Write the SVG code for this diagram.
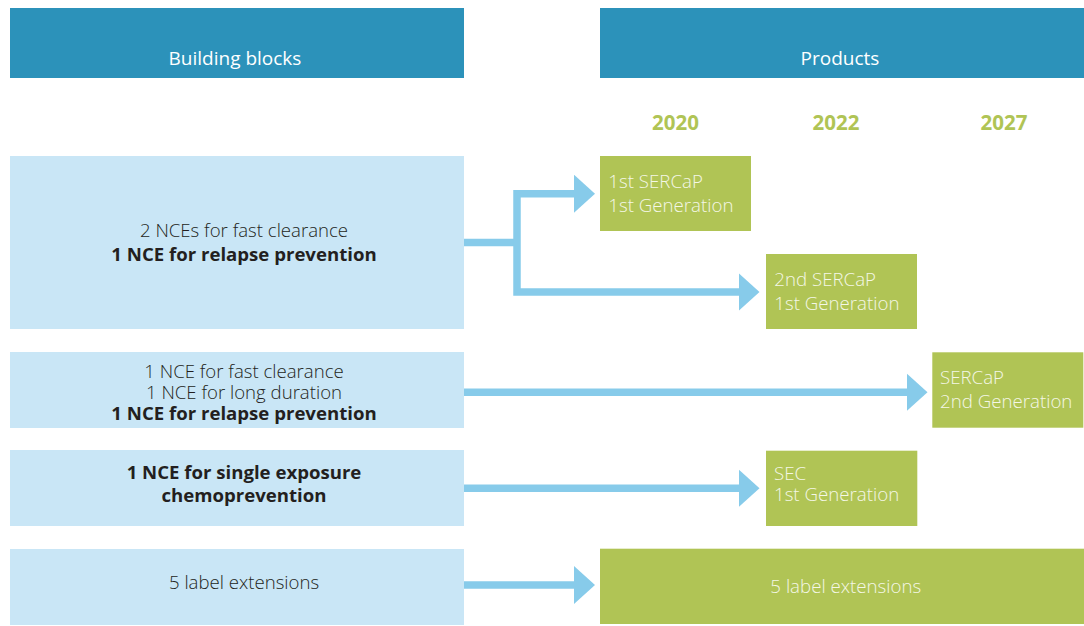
<svg xmlns="http://www.w3.org/2000/svg" width="1084" height="626" viewBox="0 0 1084 626">
  <style>
    .hdr { fill: #2c92ba; }
    .blk { fill: #c9e6f6; }
    .prd { fill: #b0c455; }
    .hdr-t { font-family: "Open Sans", "Noto Sans", sans-serif; font-size: 19px; fill: #ffffff; text-anchor: middle; }
    .yr { font-family: "Open Sans", "Noto Sans", sans-serif; font-size: 20.5px; font-weight: 700; fill: #b0c455; text-anchor: middle; }
    .bt { font-family: "Open Sans", "Noto Sans", sans-serif; font-size: 18.6px; font-weight: 300; fill: #231f20; text-anchor: middle; }
    .bb { font-size: 18.6px; font-weight: 700; }
    .pt { font-family: "Open Sans", "Noto Sans", sans-serif; font-size: 18.7px; font-weight: 300; fill: #f4f7e6; }
    .conn { fill: none; stroke: #87cbea; stroke-width: 7.5; stroke-linejoin: miter; marker-end: url(#head); }
  </style>
  <defs>
    <marker id="head" markerUnits="userSpaceOnUse" viewBox="0 0 21 38" markerWidth="21" markerHeight="38" refX="0.5" refY="19" orient="auto-start-reverse">
      <path d="M0,0 L21,19 L0,38 Z" fill="#87cbea"/>
    </marker>
  </defs>

  <rect width="1084" height="626" fill="#ffffff"/>

  <!-- column headers -->
  <g id="header-building-blocks">
    <rect class="hdr" x="10" y="8" width="454" height="70"/>
    <text class="hdr-t" x="235" y="65">Building blocks</text>
  </g>
  <g id="header-products">
    <rect class="hdr" x="600" y="8" width="484" height="70"/>
    <text class="hdr-t" x="840" y="65">Products</text>
  </g>

  <!-- years -->
  <g id="year-2020"><text class="yr" x="675.5" y="130">2020</text></g>
  <g id="year-2022"><text class="yr" x="836" y="130">2022</text></g>
  <g id="year-2027"><text class="yr" x="1004" y="130">2027</text></g>

  <!-- building blocks -->
  <g id="block-1">
    <rect class="blk" x="10" y="156" width="454" height="173"/>
    <text class="bt" x="244" y="237">2 NCEs for fast clearance</text>
    <text class="bt bb" x="244" y="260.5">1 NCE for relapse prevention</text>
  </g>
  <g id="block-2">
    <rect class="blk" x="10" y="352" width="454" height="76"/>
    <text class="bt" x="244" y="378.3">1 NCE for fast clearance</text>
    <text class="bt" x="244" y="399.2">1 NCE for long duration</text>
    <text class="bt bb" x="244" y="420">1 NCE for relapse prevention</text>
  </g>
  <g id="block-3">
    <rect class="blk" x="10" y="450" width="454" height="76"/>
    <text class="bt bb" x="244" y="478.7">1 NCE for single exposure</text>
    <text class="bt bb" x="244" y="502.3">chemoprevention</text>
  </g>
  <g id="block-4">
    <rect class="blk" x="10" y="549" width="454" height="76"/>
    <text class="bt" x="244" y="589">5 label extensions</text>
  </g>

  <!-- products -->
  <g id="product-sercap1-gen1">
    <rect class="prd" x="600" y="156" width="151" height="75"/>
    <text class="pt" x="608.3" y="188">1st SERCaP</text>
    <text class="pt" x="608.3" y="211.7">1st Generation</text>
  </g>
  <g id="product-sercap2-gen1">
    <rect class="prd" x="766" y="254" width="151" height="75"/>
    <text class="pt" x="774.3" y="286">2nd SERCaP</text>
    <text class="pt" x="774.3" y="309.7">1st Generation</text>
  </g>
  <g id="product-sercap-gen2">
    <rect class="prd" x="932.3" y="352.3" width="151" height="75.4"/>
    <text class="pt" x="940" y="384">SERCaP</text>
    <text class="pt" x="940" y="407.7">2nd Generation</text>
  </g>
  <g id="product-sec-gen1">
    <rect class="prd" x="766" y="450.7" width="151.3" height="75.3"/>
    <text class="pt" x="774" y="480">SEC</text>
    <text class="pt" x="774" y="501.3">1st Generation</text>
  </g>
  <g id="product-label-extensions">
    <rect class="prd" x="600" y="548.7" width="484" height="75.3"/>
    <text class="pt" x="845.8" y="592.7" text-anchor="middle">5 label extensions</text>
  </g>

  <!-- connectors -->
  <g id="connectors">
    <path d="M464,242.5 H517" fill="none" stroke="#87cbea" stroke-width="7.5"/>
    <path class="conn" d="M574.5,193.7 H517 V292 H739" style="marker-start: url(#head);"/>
    <path class="conn" d="M464,392.3 H907"/>
    <path class="conn" d="M464,488.3 H739"/>
    <path class="conn" d="M464,585 H574.5"/>
  </g>
</svg>
